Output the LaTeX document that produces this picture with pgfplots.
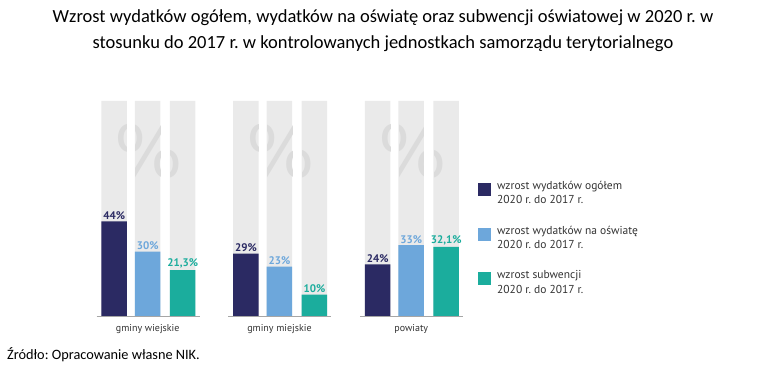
\documentclass[border=0pt]{standalone}
\usepackage{fontspec}
\setmainfont{PT Sans}
\newfontfamily\calibri{Carlito}
\newfontfamily\dejavu{DejaVu Sans}
\usepackage{pgfplots}
\pgfplotsset{compat=1.18}
\usetikzlibrary{calc}
\definecolor{cnavy}{HTML}{2B2A63}
\definecolor{cblue}{HTML}{6DA7DB}
\definecolor{cteal}{HTML}{1BAD9D}
\definecolor{bggray}{HTML}{EAEAEA}
\definecolor{pctgray}{HTML}{DBDBDB}
\definecolor{txt}{HTML}{333333}
\frenchspacing
\begin{document}
\begin{tikzpicture}
\useasboundingbox (0,0) rectangle (766pt,373pt);
\begin{axis}[
  at={(0,0)}, anchor=south west,
  scale only axis, width=766pt, height=373pt,
  xmin=-1.12106, xmax=4.69298, ymin=-26.512, ymax=146.977,
  hide axis, clip=false,
  ybar, bar width=25.5pt,
  legend style={at={(rel axis cs:0.62402,0.51475)}, anchor=north west,
    draw=none, fill=none, inner sep=0pt, row sep=20.5pt, column sep=6pt,
    font=\fontsize{11.5}{14.5}\selectfont, text=txt,
    nodes={align=left, inner sep=0pt}},
  legend cell align=left,
  nodes near coords,
  point meta=explicit symbolic,
  every node near coord/.append style={font=\bfseries\fontsize{11}{13}\selectfont, inner sep=1.5pt},
]
% background bars
\addplot[fill=bggray, draw=none, bar shift=-33.5pt, forget plot, nodes near coords={}] coordinates {(0,100)[] (1,100)[] (2,100)[]};
\addplot[fill=bggray, draw=none, bar shift=0pt, forget plot, nodes near coords={}] coordinates {(0,100)[] (1,100)[] (2,100)[]};
\addplot[fill=bggray, draw=none, bar shift=35pt, forget plot, nodes near coords={}] coordinates {(0,100)[] (1,100)[] (2,100)[]};
% data bars
\addplot[fill=cnavy, draw=none, bar shift=-33.5pt,
  every node near coord/.append style={text=cnavy},
  legend image code/.code={\fill[cnavy] (0pt,-2.5pt) rectangle (13pt,10.5pt);}]
  coordinates {(0,44)[44\%] (1,29)[29\%] (2,24)[24\%]};
\addlegendentry{wzrost wydatków ogółem\\2020 r. do 2017 r.}
\addplot[fill=cblue, draw=none, bar shift=0pt,
  every node near coord/.append style={text=cblue},
  legend image code/.code={\fill[cblue] (0pt,-2.5pt) rectangle (13pt,10.5pt);}]
  coordinates {(0,30)[30\%] (1,23)[23\%] (2,33)[33\%]};
\addlegendentry{wzrost wydatków na oświatę\\2020 r. do 2017 r.}
\addplot[fill=cteal, draw=none, bar shift=35pt,
  every node near coord/.append style={text=cteal},
  legend image code/.code={\fill[cteal] (0pt,-2.5pt) rectangle (13pt,10.5pt);}]
  coordinates {(0,21.3)[21,3\%] (1,10)[10\%] (2,32.1)[32,1\%]};
\addlegendentry{wzrost subwencji\\2020 r. do 2017 r.}
% baselines and category labels
\draw[black!35, line width=0.6pt] ([xshift=-51pt]axis cs:0,0) -- ([xshift=52pt]axis cs:0,0);
\draw[black!35, line width=0.6pt] ([xshift=-51pt]axis cs:1,0) -- ([xshift=52pt]axis cs:1,0);
\draw[black!35, line width=0.6pt] ([xshift=-51pt]axis cs:2,0) -- ([xshift=52pt]axis cs:2,0);
\node[font=\fontsize{10}{12}\selectfont, text=txt] at ([yshift=-13pt]axis cs:0,0) {gminy wiejskie};
\node[font=\fontsize{10}{12}\selectfont, text=txt] at ([yshift=-13pt]axis cs:1,0) {gminy miejskie};
\node[font=\fontsize{10}{12}\selectfont, text=txt] at ([yshift=-13pt]axis cs:2,0) {powiaty};
\coordinate (g0) at (axis cs:0,0);
\coordinate (g1) at (axis cs:1,0);
\coordinate (g2) at (axis cs:2,0);
% title and source
\node[font=\calibri\fontsize{18.5}{26}\selectfont, align=center, text=black] at (rel axis cs:0.5,0.9169)
  {Wzrost wydatków ogółem, wydatków na oświatę oraz subwencji oświatowej w 2020 r. w\\stosunku do 2017 r. w kontrolowanych jednostkach samorządu terytorialnego};
\node[font=\calibri\fontsize{14.3}{17}\selectfont, anchor=west, inner sep=0pt, text=black] at (rel axis cs:0.00914,0.04826)
  {Źródło: Opracowanie własne NIK.};
\end{axis}
\begin{scope}
\clip
  ($(g0)+(-46.25pt,0)$) rectangle ($(g0)+(-20.75pt,215pt)$)
  ($(g0)+(-12.75pt,0)$) rectangle ($(g0)+(12.75pt,215pt)$)
  ($(g0)+(22.25pt,0)$) rectangle ($(g0)+(47.75pt,215pt)$)
  ($(g1)+(-46.25pt,0)$) rectangle ($(g1)+(-20.75pt,215pt)$)
  ($(g1)+(-12.75pt,0)$) rectangle ($(g1)+(12.75pt,215pt)$)
  ($(g1)+(22.25pt,0)$) rectangle ($(g1)+(47.75pt,215pt)$)
  ($(g2)+(-46.25pt,0)$) rectangle ($(g2)+(-20.75pt,215pt)$)
  ($(g2)+(-12.75pt,0)$) rectangle ($(g2)+(12.75pt,215pt)$)
  ($(g2)+(22.25pt,0)$) rectangle ($(g2)+(47.75pt,215pt)$);
\node[font=\dejavu\fontsize{72}{72}\selectfont, text=pctgray, inner sep=0pt] at ($(g0)+(1.5pt,165pt)$) {\%};
\node[font=\dejavu\fontsize{72}{72}\selectfont, text=pctgray, inner sep=0pt] at ($(g1)+(1.5pt,165pt)$) {\%};
\node[font=\dejavu\fontsize{72}{72}\selectfont, text=pctgray, inner sep=0pt] at ($(g2)+(1.5pt,165pt)$) {\%};
\end{scope}
\end{tikzpicture}
\end{document}
